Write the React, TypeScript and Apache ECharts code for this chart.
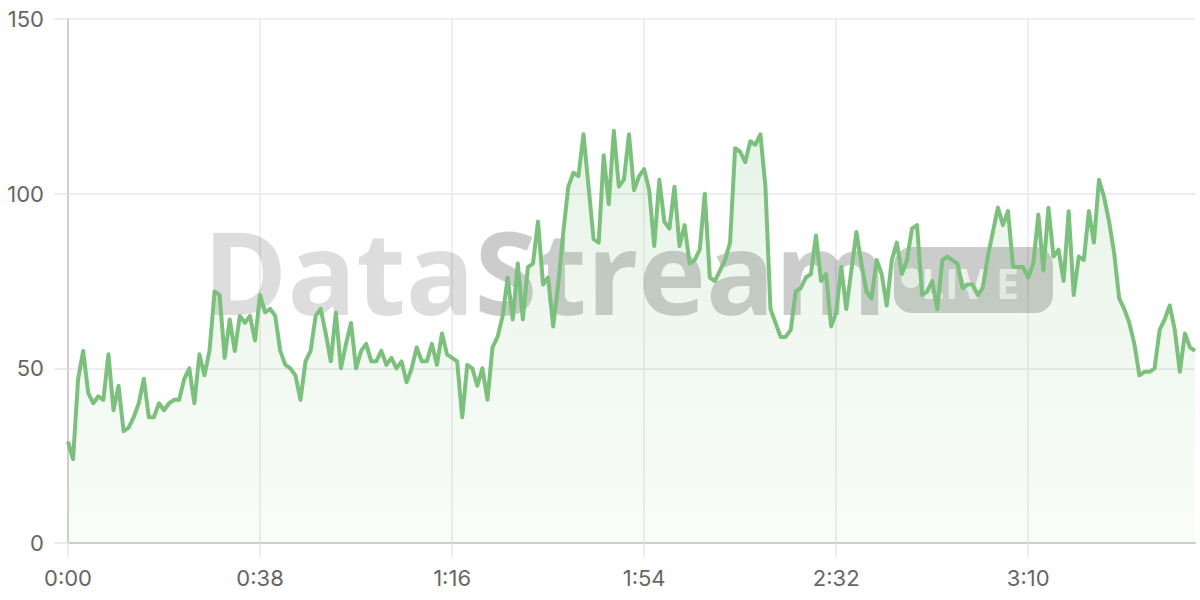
import React, { useEffect, useRef } from "react";
import * as echarts from "echarts";

// seconds from start (one point per second)
const values: number[] = [
  29, 24, 47, 55, 43, 40, 42, 41, 54, 38,
  45, 32, 33, 36, 40, 47, 36, 36, 40, 38,
  40, 41, 41, 47, 50, 40, 54, 48, 55, 72,
  71, 53, 64, 55, 65, 63, 65, 58, 71, 66,
  67, 65, 55, 51, 50, 48, 41, 52, 55, 65,
  67, 60, 52, 66, 50, 57, 63, 50, 55, 57,
  52, 52, 55, 51, 53, 50, 52, 46, 50, 56,
  52, 52, 57, 51, 60, 54, 53, 52, 36, 51,
  50, 45, 50, 41, 56, 59, 65, 76, 64, 80,
  64, 79, 80, 92, 74, 76, 62, 74, 89, 102,
  106, 105, 117, 102, 87, 86, 111, 97, 118, 102,
  104, 117, 101, 105, 107, 101, 85, 104, 92, 90,
  102, 85, 91, 80, 81, 84, 100, 76, 75, 78,
  81, 86, 113, 112, 109, 115, 114, 117, 102, 67,
  63, 59, 59, 61, 72, 73, 76, 77, 88, 75,
  77, 62, 66, 79, 67, 78, 89, 80, 72, 70,
  81, 77, 68, 81, 86, 77, 81, 90, 91, 71,
  72, 75, 67, 81, 82, 81, 80, 73, 74, 74,
  71, 73, 82, 89, 96, 91, 95, 79, 79, 79,
  76, 80, 94, 78, 96, 82, 84, 75, 95, 71,
  82, 81, 95, 86, 104, 99, 92, 83, 70, 67,
  63, 57, 48, 49, 49, 50, 61, 64, 68, 61,
  49, 60, 56, 55,
];

const fmtTime = (s: number) =>
  `${Math.floor(s / 60)}:${String(s % 60).padStart(2, "0")}`;

const categories: string[] = values.map((_, i) => fmtTime(i));

const yTicks = { min: 0, max: 150, interval: 50 };
const watermarkWord1 = "Data";
const watermarkWord2 = "Stream";
const badgeLetters = ["L", "I", "V", "E"];
const badgeLetterX = [921, 945, 960, 996];

export default function App() {
  const ref = useRef<HTMLDivElement>(null);
  useEffect(() => {
    if (!ref.current) return;
    const chart = echarts.init(ref.current, undefined, { renderer: "svg" });
    const labelFont = "Inter";
    const letterEls = badgeLetters.map((ch, k) => ({
      type: "text",
      z: 1,
      x: badgeLetterX[k],
      y: 283,
      style: {
        text: ch,
        textVerticalAlign: "middle",
        fontFamily: "Open Sans",
        fontWeight: "bold",
        fontSize: 41,
        fill: "rgba(255,255,255,0.72)",
      },
    }));
    chart.setOption({
      animation: false,
      backgroundColor: "#ffffff",
      grid: { left: 68, right: 5, top: 19, bottom: 57, containLabel: false },
      graphic: [
        {
          type: "text",
          z: 1,
          x: 203,
          y: 270,
          style: {
            text: `{a|${watermarkWord1}}{b|${watermarkWord2}}`,
            textVerticalAlign: "middle",
            rich: {
              a: {
                fontFamily: "Open Sans",
                fontWeight: "bold",
                fontSize: 114,
                fill: "rgba(0,0,0,0.135)",
              },
              b: {
                fontFamily: "Open Sans",
                fontWeight: "bold",
                fontSize: 114,
                fill: "rgba(0,0,0,0.2)",
              },
            },
          },
        },
        {
          type: "rect",
          z: 1,
          shape: { x: 894, y: 247, width: 159, height: 66, r: 18 },
          style: { fill: "rgba(0,0,0,0.2)" },
        },
        {
          type: "circle",
          z: 1,
          shape: { cx: 911, cy: 278, r: 10 },
          style: { fill: "rgba(255,255,255,0.72)" },
        },
        ...letterEls,
      ],
      xAxis: {
        type: "category",
        data: categories,
        boundaryGap: false,
        axisLine: { show: true, lineStyle: { color: "#cfcfcf", width: 2 } },
        axisTick: {
          show: true,
          interval: 37,
          length: 14,
          lineStyle: { color: "#e6e6e6", width: 1.5 },
        },
        axisLabel: {
          interval: 37,
          margin: 24,
          fontSize: 22,
          fontFamily: labelFont,
          color: "#666",
        },
        splitLine: {
          show: true,
          interval: 37,
          lineStyle: { color: "#e8e8e8", width: 1.5 },
        },
      },
      yAxis: {
        type: "value",
        min: yTicks.min,
        max: yTicks.max,
        interval: yTicks.interval,
        axisLine: { show: true, lineStyle: { color: "#cfcfcf", width: 2 } },
        axisTick: {
          show: true,
          length: 14,
          lineStyle: { color: "#e6e6e6", width: 1.5 },
        },
        axisLabel: {
          margin: 24,
          fontSize: 22,
          fontFamily: labelFont,
          color: "#666",
        },
        splitLine: { show: true, lineStyle: { color: "#e8e8e8", width: 1.5 } },
      },
      series: [
        {
          type: "line",
          data: values,
          showSymbol: false,
          symbol: "none",
          z: 3,
          lineStyle: { color: "#7cc07e", width: 4, join: "round" },
          areaStyle: {
            color: new echarts.graphic.LinearGradient(0, 0, 0, 1, [
              { offset: 0, color: "rgba(124,192,126,0.26)" },
              { offset: 1, color: "rgba(124,192,126,0.06)" },
            ]),
          },
        },
      ],
    });
    return () => chart.dispose();
  }, []);
  return (
    <div
      ref={ref}
      style={{ position: "absolute", left: 0, top: 0, width: 1200, height: 600 }}
    />
  );
}
